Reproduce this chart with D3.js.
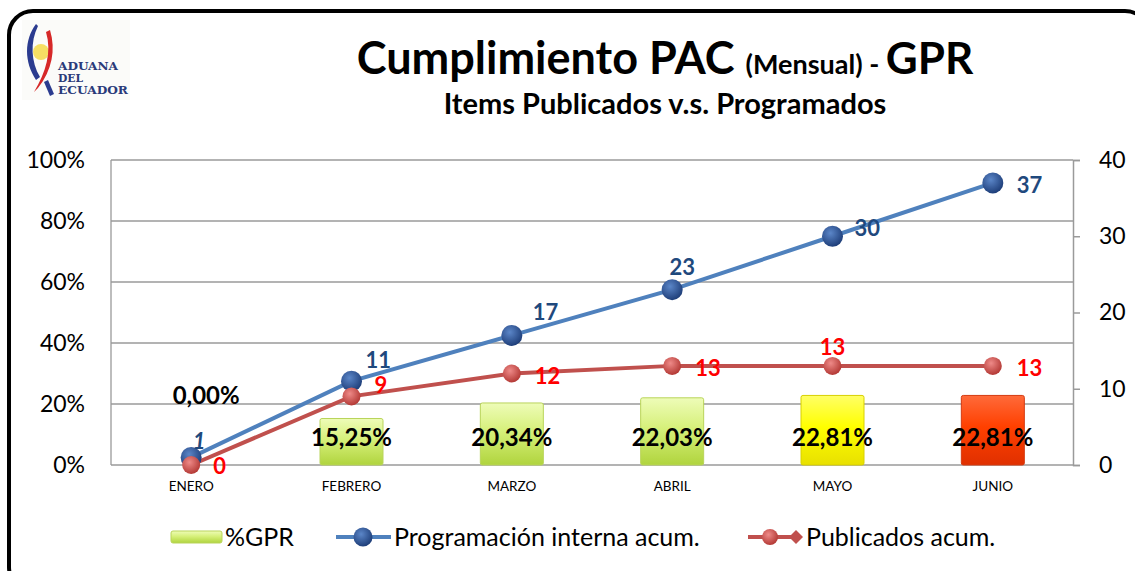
<!DOCTYPE html>
<html>
<head>
<meta charset="utf-8">
<script src="https://cdn.jsdelivr.net/npm/d3@7"></script>
<style>
  body { margin: 0; background: #fff; }
  svg { display: block; font-family: Lato, "Open Sans", sans-serif; }
</style>
</head>
<body>
<svg width="1135" height="571"></svg>
<script>
let width = 1135, height = 571;

// data
const months = ["ENERO", "FEBRERO", "MARZO", "ABRIL", "MAYO", "JUNIO"];
const gprPct = [0, 15.25, 20.34, 22.03, 22.81, 22.81];
const programados = [1, 11, 17, 23, 30, 37];
const publicados = [0, 9, 12, 13, 13, 13];
const leftTicks = [0, 20, 40, 60, 80, 100];
const rightTicks = [0, 10, 20, 30, 40];
const legendLabels = ["%GPR", "Programación interna acum.", "Publicados acum."];

// label offsets (layout only)
const blueLbl = [[8, -8, "middle"], [14, -13, "start"], [21, -15, "start"], [10, -15, "middle"], [22, 0, "start"], [24, 10, "start"]];
const redLbl = [[22, 9, "start"], [23, -3, "start"], [23, 10, "start"], [23, 10, "start"], [0, -11, "middle"], [24, 10, "start"]];

let svg = d3.select("svg");
let defs = svg.append("defs");

// gradients
function barGrad(id, light, mid, dark) {
  let g = defs.append("linearGradient").attr("id", id).attr("x1", 0).attr("y1", 0).attr("x2", 0).attr("y2", 1);
  g.append("stop").attr("offset", "0%").attr("stop-color", light);
  g.append("stop").attr("offset", "45%").attr("stop-color", mid);
  g.append("stop").attr("offset", "100%").attr("stop-color", dark);
}
barGrad("gGreen", "#eefcb8", "#d6f07a", "#b0d43e");
barGrad("gYellow", "#ffff66", "#ffff00", "#e8e000");
barGrad("gRed", "#ff6a3a", "#ff4000", "#e03000");

function ballGrad(id, light, dark) {
  let g = defs.append("radialGradient").attr("id", id).attr("cx", "40%").attr("cy", "35%").attr("r", "65%");
  g.append("stop").attr("offset", "0%").attr("stop-color", light);
  g.append("stop").attr("offset", "100%").attr("stop-color", dark);
}
ballGrad("bBlue", "#5b86c8", "#1f3f7a");
ballGrad("bRed", "#ee8a88", "#b43a36");

// outer rounded frame
svg.append("rect")
  .attr("x", 9).attr("y", 11)
  .attr("width", 1140).attr("height", 580)
  .attr("rx", 24)
  .attr("fill", "none")
  .attr("stroke", "#000")
  .attr("stroke-width", 4);

// logo
let logo = svg.append("g");
logo.append("rect").attr("x", 22).attr("y", 20).attr("width", 108).attr("height", 80).attr("fill", "#fbfbf9");
logo.append("path").attr("d", "M36,24 C24,40 24,62 36,80 L40,77 C31,62 30,42 38,26 Z").attr("fill", "#2b3b8f");
logo.append("circle").attr("cx", 41).attr("cy", 52).attr("r", 8).attr("fill", "#f4d94a").attr("opacity", 0.85);
logo.append("path").attr("d", "M50,30 C56,50 52,70 38,88 L34,92 C46,72 52,52 46,32 Z").attr("fill", "#d62828");
logo.append("path").attr("d", "M44,82 L50,96 L54,94 L48,80 Z").attr("fill", "#2b3b8f");
logo.selectAll("text.logo")
  .data(["ADUANA", "DEL", "ECUADOR"])
  .enter().append("text")
  .attr("x", 58).attr("y", (d, i) => 70 + i * 12)
  .attr("font-family", "'DejaVu Serif', serif")
  .attr("font-size", 10.5)
  .attr("font-weight", "bold")
  .attr("fill", "#2a3a7a")
  .attr("textLength", (d, i) => [60, 25, 70][i])
  .attr("lengthAdjust", "spacingAndGlyphs")
  .text(d => d);

// title
let title = svg.append("text").attr("x", 665).attr("y", 74).attr("text-anchor", "middle").attr("font-weight", "bold").attr("fill", "#000");
title.append("tspan").attr("font-size", 45).text("Cumplimiento PAC ");
title.append("tspan").attr("font-size", 27).text("(Mensual) - ");
title.append("tspan").attr("font-size", 44).text("GPR");

svg.append("text").attr("x", 665).attr("y", 114).attr("text-anchor", "middle")
  .attr("font-weight", "bold").attr("font-size", 29).text("Items Publicados v.s. Programados");

// scales
let x = d3.scaleBand().domain(months).range([111, 1073]);
let yL = d3.scaleLinear().domain([0, 100]).range([465, 160]);
let yR = d3.scaleLinear().domain([0, 40]).range([465, 160]);
let cx = d => x(d) + x.bandwidth() / 2;

// grid lines
svg.append("g").selectAll("line")
  .data(leftTicks)
  .enter().append("line")
  .attr("x1", 111).attr("x2", 1073)
  .attr("y1", d => yL(d)).attr("y2", d => yL(d))
  .attr("stroke", "#9a9a9a").attr("stroke-width", 1.3);

svg.append("line").attr("x1", 111).attr("x2", 111).attr("y1", 160).attr("y2", 465)
  .attr("stroke", "#9a9a9a").attr("stroke-width", 1.3);

// left axis
let leftAxis = svg.append("g").attr("transform", "translate(111,0)")
  .call(d3.axisLeft(yL).tickValues(leftTicks).tickFormat(d => d + "%").tickSize(0).tickPadding(26));
leftAxis.select(".domain").remove();
leftAxis.selectAll("text").attr("font-size", 23).attr("font-family", "Lato, sans-serif").attr("fill", "#000");

// right axis
let rightAxis = svg.append("g").attr("transform", "translate(1073,0)")
  .call(d3.axisRight(yR).tickValues(rightTicks).tickSize(7).tickPadding(19));
rightAxis.select(".domain").attr("stroke", "#9a9a9a").attr("stroke-width", 1.5);
rightAxis.selectAll("line").attr("stroke", "#9a9a9a").attr("stroke-width", 1.5);
rightAxis.selectAll("text").attr("font-size", 23).attr("font-family", "Lato, sans-serif").attr("fill", "#000");

// category axis
let bottomAxis = svg.append("g").attr("transform", "translate(0,465)")
  .call(d3.axisBottom(x).tickSize(0).tickPadding(16));
bottomAxis.select(".domain").remove();
bottomAxis.selectAll("text").attr("font-size", 13.5).attr("font-family", "Lato, sans-serif").attr("fill", "#000");

// bars
let barFill = ["gGreen", "gGreen", "gGreen", "gGreen", "gYellow", "gRed"];
let barW = 63;
svg.append("g").selectAll("rect")
  .data(gprPct)
  .enter().append("rect")
  .attr("x", (d, i) => cx(months[i]) - barW / 2)
  .attr("y", d => yL(d))
  .attr("width", barW)
  .attr("height", d => 465 - yL(d))
  .attr("rx", 2)
  .attr("fill", (d, i) => "url(#" + barFill[i] + ")")
  .attr("stroke", (d, i) => i == 5 ? "#d43a10" : (i == 4 ? "#d8d000" : "#b9d45a"))
  .attr("stroke-width", 1);

let fmtPct = d => d.toFixed(2).replace(".", ",") + "%";
svg.append("g").selectAll("text")
  .data(gprPct)
  .enter().append("text")
  .attr("x", (d, i) => cx(months[i]) + (d == 0 ? 15 : 0))
  .attr("y", d => d == 0 ? 404 : 446)
  .attr("text-anchor", "middle")
  .attr("font-size", 24).attr("font-weight", "bold").attr("fill", "#000")
  .text(fmtPct);

// lines
let lineB = d3.line().x((d, i) => cx(months[i])).y(d => yR(d));
svg.append("path").datum(publicados).attr("d", lineB)
  .attr("fill", "none").attr("stroke", "#c0504d").attr("stroke-width", 4);
svg.append("path").datum(programados).attr("d", lineB)
  .attr("fill", "none").attr("stroke", "#4f81bd").attr("stroke-width", 4);

svg.append("g").selectAll("circle")
  .data(programados)
  .enter().append("circle")
  .attr("cx", (d, i) => cx(months[i])).attr("cy", d => yR(d))
  .attr("r", 10.5).attr("fill", "url(#bBlue)");

svg.append("g").selectAll("circle")
  .data(publicados)
  .enter().append("circle")
  .attr("cx", (d, i) => cx(months[i])).attr("cy", d => yR(d))
  .attr("r", 9).attr("fill", "url(#bRed)");

// point labels
svg.append("g").selectAll("text")
  .data(programados)
  .enter().append("text")
  .attr("x", (d, i) => cx(months[i]) + blueLbl[i][0])
  .attr("y", (d, i) => yR(d) + blueLbl[i][1])
  .attr("text-anchor", (d, i) => blueLbl[i][2])
  .attr("font-style", (d, i) => i == 0 ? "italic" : "normal")
  .attr("font-size", 22).attr("font-weight", "bold").attr("fill", "#1f497d")
  .text(d => d);

svg.append("g").selectAll("text")
  .data(publicados)
  .enter().append("text")
  .attr("x", (d, i) => cx(months[i]) + redLbl[i][0])
  .attr("y", (d, i) => yR(d) + redLbl[i][1])
  .attr("text-anchor", (d, i) => redLbl[i][2])
  .attr("font-size", 22).attr("font-weight", "bold").attr("fill", "#ff0000")
  .text(d => d);

// legend
let lg = svg.append("g").attr("font-size", 25).attr("fill", "#000");
lg.append("rect").attr("x", 171).attr("y", 531).attr("width", 51).attr("height", 12).attr("rx", 2)
  .attr("fill", "url(#gGreen)").attr("stroke", "#b9d45a");
lg.append("text").attr("x", 225).attr("y", 546).text(legendLabels[0]);

lg.append("line").attr("x1", 336).attr("x2", 391).attr("y1", 537).attr("y2", 537)
  .attr("stroke", "#4f81bd").attr("stroke-width", 4);
lg.append("circle").attr("cx", 363).attr("cy", 537).attr("r", 9.5).attr("fill", "url(#bBlue)");
lg.append("text").attr("x", 394).attr("y", 546).text(legendLabels[1]);

lg.append("line").attr("x1", 748).attr("x2", 796).attr("y1", 537).attr("y2", 537)
  .attr("stroke", "#c0504d").attr("stroke-width", 4);
lg.append("circle").attr("cx", 770).attr("cy", 537).attr("r", 8).attr("fill", "url(#bRed)");
lg.append("path").attr("d", "M796,530 L803,537 L796,544 L789,537 Z").attr("fill", "#c0504d");
lg.append("text").attr("x", 806).attr("y", 546).text(legendLabels[2]);
</script>
</body>
</html>
